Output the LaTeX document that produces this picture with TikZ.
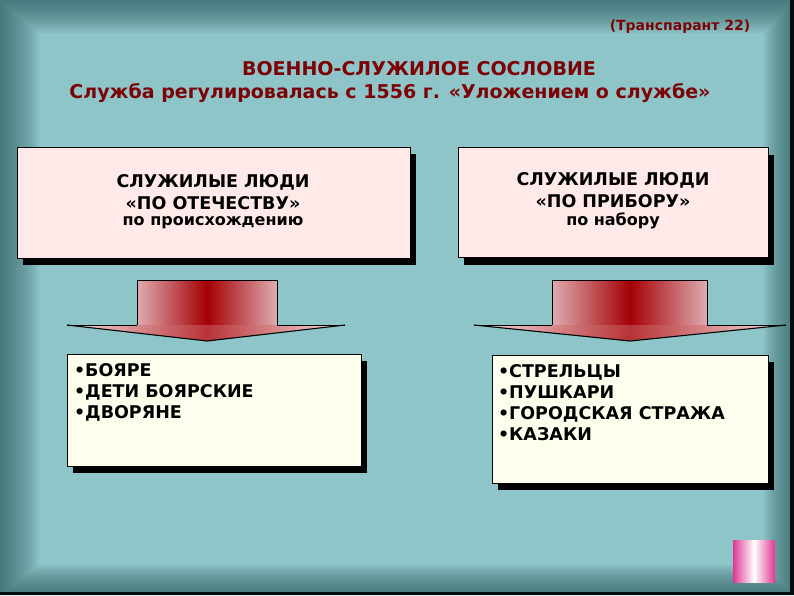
\documentclass[tikz,border=0pt]{standalone}
\usepackage{fontspec}
\newfontfamily\verdfont{DejaVu Sans}
\usetikzlibrary{positioning, shadows}

\definecolor{bgteal}{RGB}{142,197,200}
\definecolor{edgeteal}{RGB}{40,88,92}
\definecolor{titlered}{RGB}{125,0,5}
\definecolor{boxpink}{RGB}{255,233,233}
\definecolor{listcream}{RGB}{255,255,238}
\definecolor{arrowred}{RGB}{165,0,5}
\definecolor{arrowpale}{RGB}{222,172,176}
\definecolor{wingpale}{RGB}{245,225,225}
\definecolor{squaremag}{RGB}{222,55,145}

\tikzset{
  boxshadow/.style={drop shadow={shadow xshift=6pt, shadow yshift=-7pt, opacity=1, fill=black}},
  headbox/.style={draw=black, thin, fill=boxpink, boxshadow, align=center},
  listbox/.style={draw=black, thin, fill=listcream, boxshadow},
  headtext/.style={font=\verdfont\bfseries\fontsize{17.5}{20}\selectfont},
  subtext/.style={font=\verdfont\bfseries\fontsize{16}{20}\selectfont},
  itemtext/.style={font=\verdfont\bfseries\fontsize{17.5}{20.7}\selectfont, align=left, anchor=north west, inner sep=0pt},
  titletext/.style={text=titlered, font=\verdfont\bfseries\fontsize{19}{21}\selectfont}
}

\begin{document}
\begin{tikzpicture}[x=1pt, y=-1pt]

  % background with dark edges
  \useasboundingbox (0,0) rectangle (794,595);
  \fill[bgteal] (0,0) rectangle (794,595);
  \foreach \i in {0,...,15}
    \fill[edgeteal, opacity=0.065, even odd rule] (0,0) rectangle (794,595)
      (\i*2.6,\i*2.2) rectangle (794-\i*2,595-\i*2);
  \fill[black!85!edgeteal] (790,0) rectangle (794,595);
  \fill[black!85!edgeteal] (0,592) rectangle (794,595);

  % titles
  \node[titletext, font=\verdfont\bfseries\fontsize{14}{16}\selectfont] (transp) at (680,27) {(Транспарант 22)};
  \node[titletext] (soslovie) at (419,69) {ВОЕННО-СЛУЖИЛОЕ СОСЛОВИЕ};
  \node[titletext] (ulozh) at (390,93) {Служба регулировалась с 1556 г. «Уложением о службе»};

  % upper boxes
  \node[headbox, minimum width=393pt, minimum height=111pt] (otech) at (213.5,202.5) {};
  \node[headtext] (otech1) at (213,182) {СЛУЖИЛЫЕ ЛЮДИ};
  \node[headtext] (otech2) at (213,203) {«ПО ОТЕЧЕСТВУ»};
  \node[subtext] (otech3) at (213,223) {по происхождению};

  \node[headbox, minimum width=310pt, minimum height=110pt] (pribor) at (613,202.5) {};
  \node[headtext] (pribor1) at (613,180) {СЛУЖИЛЫЕ ЛЮДИ};
  \node[headtext] (pribor2) at (613,201) {«ПО ПРИБОРУ»};
  \node[subtext] (pribor3) at (613,221) {по набору};

  % big arrows
  \foreach \l/\m/\r/\wl/\wr in {137/207/277/67/345, 552/630/707/474/786}{
    \shade[left color=arrowpale, right color=arrowred] (\l,280) rectangle (\m,325);
    \shade[left color=arrowred, right color=arrowpale] (\m,280) rectangle (\r,325);
    \shade[left color=wingpale, right color=arrowred!80!white] (\wl,325) -- (\m,325) -- (\m,341) -- cycle;
    \shade[left color=arrowred!80!white, right color=wingpale] (\m,325) -- (\wr,325) -- (\m,341) -- cycle;
    \draw[black, thin, line join=miter] (\l,325) -- (\l,280) -- (\r,280) -- (\r,325);
    \draw[black, thin] (\wl,325) -- (\l,325) (\r,325) -- (\wr,325);
    \draw[black, line width=1.1pt] (\wl,325) -- (\m,341) -- (\wr,325);
  }

  % lower boxes
  \node[listbox, minimum width=294pt, minimum height=112pt] (znat) at (214,410) {};
  \node[itemtext] (znatitems) at ([xshift=7pt, yshift=-10pt]znat.north west)
    {•БОЯРЕ\\•ДЕТИ БОЯРСКИЕ\\•ДВОРЯНЕ};

  \node[listbox, minimum width=276pt, minimum height=128pt] (nabor) at (630,419) {};
  \node[itemtext] (naboritems) at ([xshift=6pt, yshift=-10pt]nabor.north west)
    {•СТРЕЛЬЦЫ\\•ПУШКАРИ\\•ГОРОДСКАЯ СТРАЖА\\•КАЗАКИ};

  % small square
  \shade[left color=squaremag, right color=white] (733,540) rectangle (754,582);
  \shade[left color=white, right color=squaremag] (754,540) rectangle (775,582);

\end{tikzpicture}
\end{document}
